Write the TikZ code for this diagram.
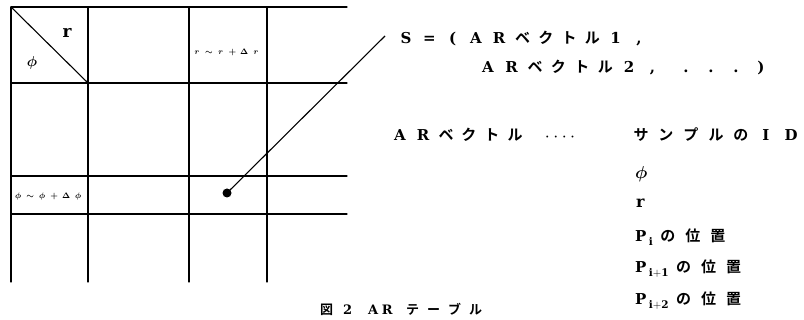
\documentclass[tikz,border=0pt]{standalone}
\usepackage{fontspec}
\setmainfont{DejaVu Serif}
\newfontfamily\jp{Noto Sans CJK JP Bold}
\ExplSyntaxOn
\NewDocumentCommand\spc{mm}{\tl_map_inline:nn{#2}{\makebox[#1]{\int_compare:nNnTF{`##1}>{255}{\jp ##1}{\bfseries ##1}}}}
\NewDocumentCommand\spm{mm}{\tl_map_inline:nn{#2}{\makebox[#1]{$##1$}}}
\ExplSyntaxOff
\tikzset{
  gridline/.style={line width=1.3pt, line cap=round},
  txt/.style={inner sep=0pt, outer sep=0pt, font=\fontsize{15}{18}\selectfont},
  small/.style={inner sep=0pt, font=\fontsize{8.5}{10}\selectfont\boldmath},
}
\begin{document}
\begin{tikzpicture}[x=1pt,y=-1pt]
\useasboundingbox (0,0) rectangle (804,320);
\clip (0,0) rectangle (804,320);
% grid
\draw[gridline] (11,7) -- (347,7);
\draw[gridline] (11,83) -- (347,83);
\draw[gridline] (11,176) -- (347,176);
\draw[gridline] (11,214) -- (347,214);
\foreach \xx in {11,88,189,267} \draw[gridline] (\xx,7) -- (\xx,282);
\draw[line width=1.1pt] (11,7) -- (88,83);
\node[inner sep=0pt, font=\fontsize{17}{20}\selectfont\bfseries] (rlab) at (67,33) {r};
\node[inner sep=0pt, font=\fontsize{15}{18}\selectfont\boldmath] (philab) at (32,63) {$\phi$};
\node[small, anchor=west] (rrange) at (191,52) {\spm{11.8pt}{r\sim r+\Delta r}};
\node[small, anchor=west] (phirange) at (12,197) {\spm{12pt}{\phi\sim\phi+\Delta\phi}};
% dot and leader
\node[circle, fill=black, inner sep=0pt, minimum size=9pt] (dot) at (227,193) {};
\coordinate (lend) at (385,36);
\draw[line width=1.1pt] (dot.center) -- (lend);
% right text
\node[txt, anchor=base west] (s1) at (394.35,44) {\spc{23.3pt}{S=(ARベクトル1,}};
\node[txt, anchor=base west] (s2) at (476.25,73) {\spc{23.5pt}{ARベクトル2,}};
\node[txt, anchor=base west] (s2b) at (673.5,73) {\spc{25pt}{...)}};
\node[txt, anchor=base west] (ar) at (388.5,141) {\spc{23pt}{ARベクトル}};
\node[txt, anchor=base, font=\fontsize{10}{12}\selectfont\bfseries] (dots) at (560,141) {·\hspace{5pt}·\hspace{5pt}·\hspace{5pt}·};
\node[txt, anchor=base west] (id) at (628.5,141) {\spc{25pt}{サンプルのID}};
\node[txt, anchor=base west, font=\fontsize{16}{18}\selectfont\boldmath] (phi2) at (635,179) {$\phi$};
\node[txt, anchor=base west, font=\fontsize{16}{18}\selectfont\bfseries] (r2) at (636,208) {r};
\node[txt, anchor=base west] (p1) at (635,242) {\textbf{P}\,$_{\mathbf{i}}$\hspace{2pt}\spc{25pt}{の位置}};
\node[txt, anchor=base west] (p2) at (635,273) {\textbf{P}\,$_{\mathbf{i+1}}$\hspace{2pt}\spc{25pt}{の位置}};
\node[txt, anchor=base west] (p3) at (635,305) {\textbf{P}\,$_{\mathbf{i+2}}$\hspace{2pt}\spc{25pt}{の位置}};
% caption
\node[inner sep=0pt, anchor=north west, font=\fontsize{13}{15}\selectfont] (cap) at (316,303) {\spc{21pt}{図2}\hspace{8pt}\spc{14pt}{AR}\hspace{8pt}\spc{21pt}{テーブル}};
\end{tikzpicture}
\end{document}
